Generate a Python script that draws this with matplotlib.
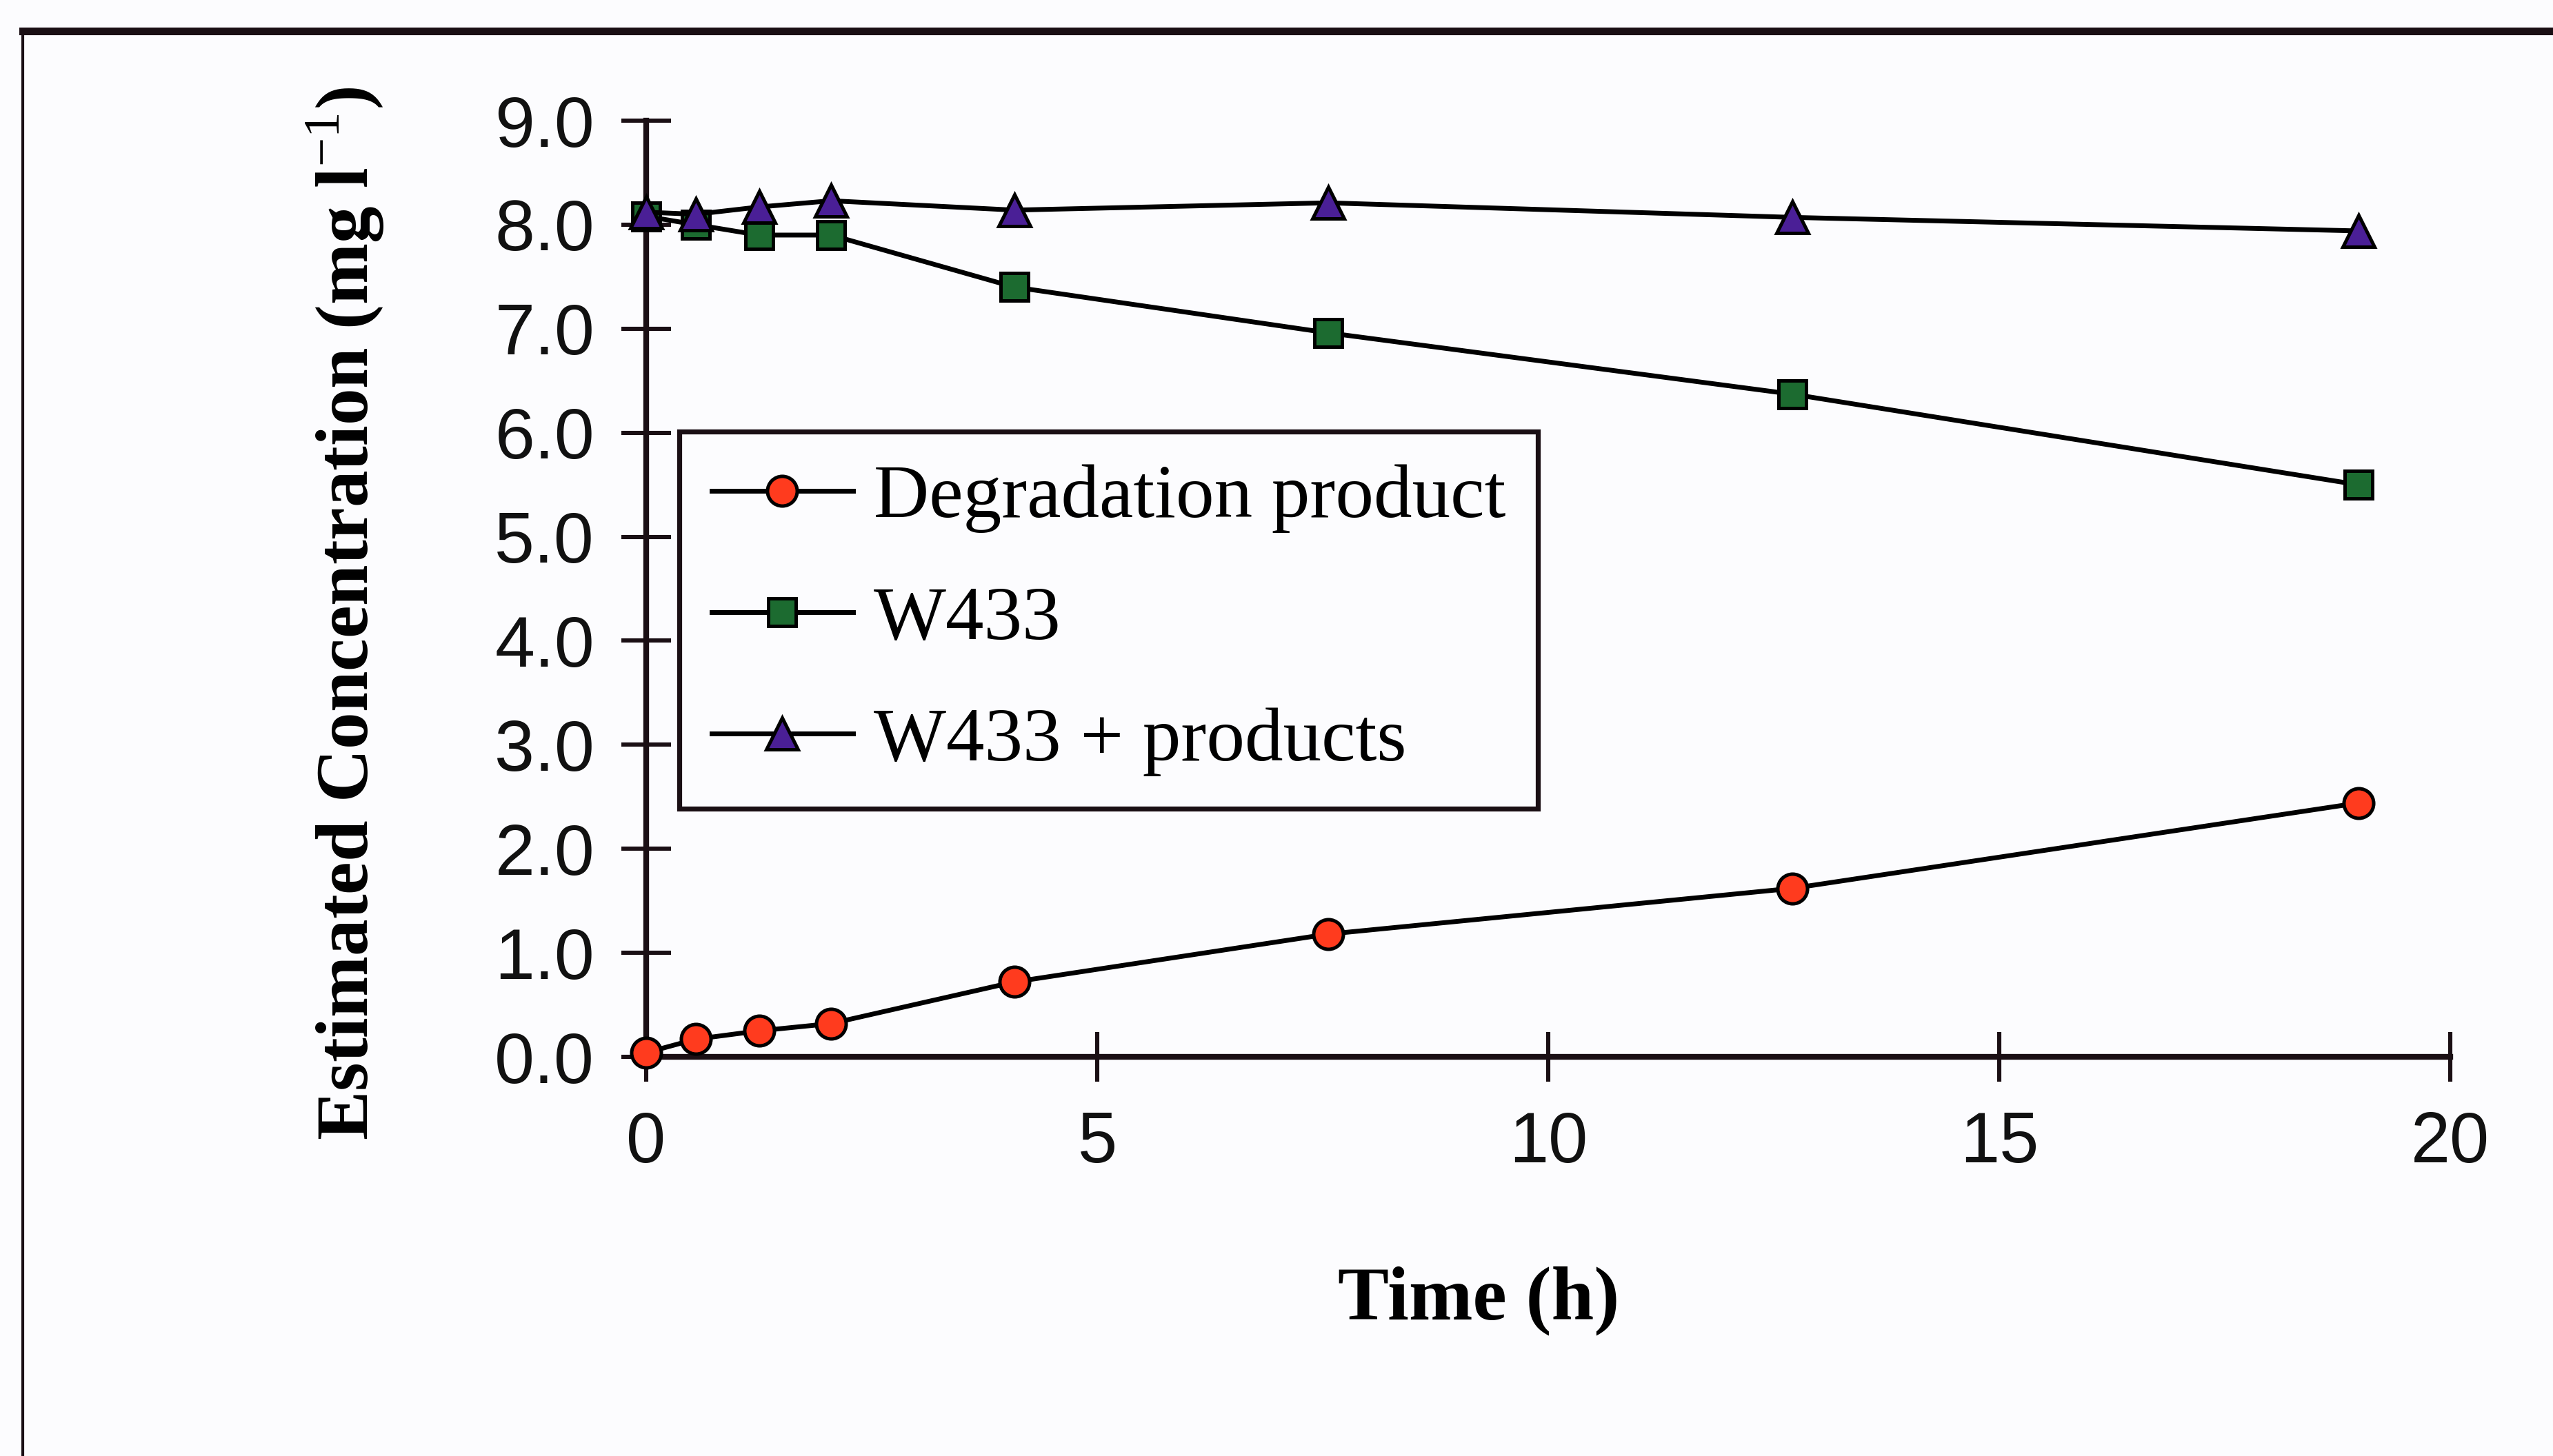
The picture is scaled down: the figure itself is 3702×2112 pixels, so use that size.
import matplotlib
matplotlib.use("Agg")
import matplotlib.pyplot as plt
from matplotlib.lines import Line2D

# ---- data ----
time_h = [0.0, 0.55, 1.25, 2.05, 4.08, 7.56, 12.71, 18.98]
degradation = [0.04, 0.17, 0.25, 0.32, 0.72, 1.18, 1.62, 2.44]
w433 = [8.08, 8.00, 7.90, 7.90, 7.40, 6.96, 6.37, 5.50]
w433_products = [8.12, 8.10, 8.17, 8.23, 8.14, 8.21, 8.07, 7.94]

series_labels = ["Degradation product", "W433", "W433 + products"]
x_ticks = [0, 5, 10, 15, 20]
y_ticks = [0, 1, 2, 3, 4, 5, 6, 7, 8, 9]
y_tick_labels = ["0.0", "1.0", "2.0", "3.0", "4.0", "5.0", "6.0", "7.0", "8.0", "9.0"]

plt.rcParams["mathtext.fontset"] = "custom"
plt.rcParams["mathtext.rm"] = "Liberation Serif"
plt.rcParams["mathtext.bf"] = "Liberation Serif:bold"

W, H, DPI = 3702, 2112, 200
bg = "#fcfcfe"
fig = plt.figure(figsize=(W / DPI, H / DPI), dpi=DPI, facecolor=bg)

def fx(px):
    return px / W

def fy(py):
    return 1 - py / H

ax = fig.add_axes([fx(937), fy(1533), fx(3553) - fx(937), fy(175) - fy(1533)])
ax.set_facecolor(bg)

ms = 15.5
mew = 1.8
lw = 2.5
ax.plot(time_h, degradation, color="black", lw=lw, marker="o", ms=ms,
        mfc="#ff3b1e", mec="black", mew=mew, clip_on=False, zorder=3,
        label=series_labels[0])
ax.plot(time_h, w433, color="black", lw=lw, marker="s", ms=ms - 1,
        mfc="#1c6b30", mec="black", mew=mew, clip_on=False, zorder=3,
        label=series_labels[1])
ax.plot(time_h, w433_products, color="black", lw=lw, marker="^", ms=ms + 1,
        mfc="#4a1f96", mec="black", mew=mew, clip_on=False, zorder=4,
        label=series_labels[2])

ax.set_xlim(0, 20)
ax.set_ylim(0, 9)
ax.set_xticks(x_ticks)
ax.set_yticks(y_ticks)
ax.set_yticklabels(y_tick_labels)

for s in ["top", "right"]:
    ax.spines[s].set_visible(False)
for s in ["left", "bottom"]:
    ax.spines[s].set_linewidth(3)
    ax.spines[s].set_color("#1a0f14")

ax.tick_params(axis="both", direction="inout", length=26, width=2.2,
               colors="#1a0f14", labelcolor="#111111")
ax.tick_params(axis="x", pad=15)
ax.tick_params(axis="y", pad=14)
for lab in ax.get_xticklabels():
    lab.set_fontfamily("Liberation Sans")
    lab.set_fontsize(37)
for lab in ax.get_yticklabels():
    lab.set_fontfamily("Liberation Sans")
    lab.set_fontsize(37.5)

fig.text(fx(2144), fy(1887), "Time (h)", ha="center", va="center",
         fontfamily="Liberation Serif", fontweight="bold", fontsize=40)
fig.text(fx(500), fy(890), r"Estimated Concentration (mg l$^{\mathrm{-1}}$)",
         ha="center", va="center", rotation=90,
         fontfamily="Liberation Serif", fontweight="bold", fontsize=38.5)

leg = ax.legend(loc="upper left", bbox_to_anchor=(fx(985), fy(626)),
                bbox_transform=fig.transFigure, borderaxespad=0,
                prop={"family": "Liberation Serif", "size": 40},
                frameon=True, fancybox=False, shadow=False,
                handlelength=1.85, handletextpad=0.27, labelspacing=0.68,
                borderpad=0.42, framealpha=1)
leg.get_frame().set_edgecolor("#1a0f14")
leg.get_frame().set_linewidth(2.6)
leg.get_frame().set_facecolor(bg)

# outer frame of the figure (top and left edges only)
fig.add_artist(Line2D([fx(33), 1.0], [fy(45), fy(45)], transform=fig.transFigure,
                      color="#1a0f14", lw=4.0))
fig.add_artist(Line2D([fx(33), fx(33)], [fy(45), 0.0], transform=fig.transFigure,
                      color="#1a0f14", lw=1.5))

fig.savefig("out.png", dpi=DPI, facecolor=bg)
